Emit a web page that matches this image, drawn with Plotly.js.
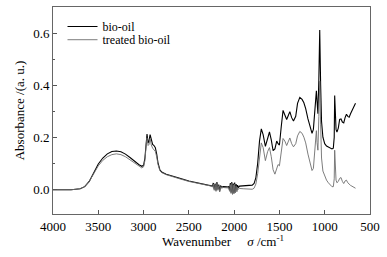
<!DOCTYPE html>
<html>
<head>
<meta charset="utf-8">
<script src="https://cdn.plot.ly/plotly-3.0.1.min.js"></script>
<style>
  html, body { margin: 0; padding: 0; background: #fff; }
  #chart { width: 387px; height: 257px; }
</style>
</head>
<body>
<div id="chart"></div>
<script>
// wavenumber (cm-1), shared by both spectra
const wavenumber = [
  4000, 3900, 3800, 3700, 3650, 3600, 3550, 3500, 3450, 3400, 3350, 3300, 3250, 3200, 3150, 3100, 3050, 3020, 3000,
  2985, 2970, 2962, 2950, 2940, 2928, 2915, 2900, 2885, 2870, 2855, 2840, 2820, 2800, 2750, 2700, 2600, 2500, 2400, 2300, 2250,
  2240, 2230, 2220, 2210, 2200, 2190, 2180, 2170, 2160, 2150, 2140,
  2120, 2100, 2080, 2060,
  2050, 2042, 2034, 2026, 2018, 2010, 2002, 1994, 1986, 1978, 1970, 1962, 1954,
  1940, 1900, 1850, 1800, 1780, 1760, 1740, 1720, 1700, 1680, 1655, 1630, 1610, 1590, 1570, 1550, 1530, 1515, 1500,
  1480, 1460, 1440, 1420, 1400, 1385, 1365, 1345, 1320, 1300, 1275, 1250, 1230, 1210, 1185, 1160, 1140, 1125, 1110,
  1100, 1092, 1085, 1075, 1065, 1055, 1045, 1035, 1020, 1000, 980, 960, 940, 920, 905, 895, 890, 885, 875, 865,
  850, 835, 820, 805, 790, 775, 760, 745, 730, 715, 700, 685, 670, 660
];

const bioOil = [
  -0.002, -0.002, -0.002, 0.002, 0.01, 0.03, 0.065, 0.097, 0.12, 0.136, 0.145, 0.147, 0.144, 0.135, 0.122, 0.107, 0.094, 0.088, 0.092,
  0.12, 0.19, 0.212, 0.178, 0.185, 0.21, 0.185, 0.172, 0.168, 0.16, 0.135, 0.1, 0.075, 0.066, 0.058, 0.052, 0.042, 0.032, 0.024, 0.017, 0.014,
  0.012, 0.024, 0.0, 0.022, -0.004, 0.028, 0.0, 0.018, -0.008, 0.014, 0.008,
  0.01, 0.009, 0.009, 0.01,
  -0.004, 0.024, -0.012, 0.028, -0.016, 0.022, -0.014, 0.026, -0.01, 0.02, -0.004, 0.016, 0.006,
  0.012, 0.013, 0.014, 0.016, 0.022, 0.045, 0.1, 0.185, 0.232, 0.21, 0.165, 0.2, 0.22, 0.19, 0.148, 0.155, 0.185, 0.175, 0.17,
  0.24, 0.303, 0.285, 0.268, 0.285, 0.298, 0.275, 0.262, 0.28, 0.33, 0.353, 0.345, 0.332, 0.31, 0.27, 0.235, 0.215, 0.23, 0.29,
  0.36, 0.378, 0.34, 0.29, 0.42, 0.612, 0.4, 0.26, 0.2, 0.175, 0.166, 0.162, 0.158, 0.155, 0.158, 0.2, 0.36, 0.3, 0.23, 0.22,
  0.235, 0.268, 0.27, 0.258, 0.255, 0.275, 0.288, 0.28, 0.277, 0.29, 0.302, 0.31, 0.32, 0.33
];

const treatedBioOil = [
  -0.002, -0.002, -0.002, 0.002, 0.01, 0.03, 0.062, 0.09, 0.111, 0.125, 0.133, 0.136, 0.133, 0.125, 0.113, 0.1, 0.088, 0.082, 0.086,
  0.11, 0.175, 0.198, 0.168, 0.172, 0.195, 0.17, 0.158, 0.152, 0.145, 0.125, 0.095, 0.072, 0.064, 0.056, 0.05, 0.04, 0.03, 0.022, 0.015, 0.012,
  0.008, 0.02, -0.004, 0.018, -0.008, 0.022, -0.004, 0.014, -0.01, 0.01, 0.004,
  0.007, 0.006, 0.005, 0.005,
  -0.008, 0.018, -0.016, 0.022, -0.02, 0.016, -0.018, 0.02, -0.014, 0.012, -0.01, 0.008, 0.0,
  0.003, 0.002, 0.001, 0.0, 0.004, 0.02, 0.06, 0.13, 0.178, 0.16, 0.11, 0.145, 0.16, 0.125, 0.075, 0.058, 0.085, 0.095, 0.09,
  0.15, 0.195, 0.185, 0.168, 0.185, 0.197, 0.175, 0.163, 0.175, 0.205, 0.222, 0.215, 0.2, 0.178, 0.135, 0.095, 0.072, 0.08, 0.14,
  0.2, 0.225, 0.18, 0.15, 0.28, 0.415, 0.25, 0.12, 0.07, 0.05, 0.035, 0.025, 0.018, 0.01, 0.01, 0.04, 0.15, 0.08, 0.035, 0.025,
  0.03, 0.042, 0.045, 0.03, 0.022, 0.032, 0.035, 0.025, 0.018, 0.015, 0.012, 0.008, 0.005, 0.004
];

const seriesNames = ["bio-oil", "treated bio-oil"];
const xTicks = [4000, 3500, 3000, 2500, 2000, 1500, 1000, 500];
const yTicks = [0.0, 0.2, 0.4, 0.6];

const serif = "Liberation Serif, Times New Roman, serif";

const traces = [
  {
    type: "scatter", mode: "lines", name: seriesNames[0],
    x: wavenumber, y: bioOil,
    line: { color: "#000000", width: 1.1 },
    legend: "legend"
  },
  {
    type: "scatter", mode: "lines", name: seriesNames[1],
    x: wavenumber, y: treatedBioOil,
    line: { color: "#6e6e6e", width: 0.9 },
    legend: "legend2"
  }
];

function legendBox(y) {
  return {
    x: 0.03, y: y, xanchor: "left", yanchor: "top",
    bgcolor: "rgba(0,0,0,0)",
    font: { family: serif, size: 12, color: "#000" },
    itemwidth: 30
  };
}

const layout = {
  width: 387,
  height: 257,
  margin: { l: 53, r: 17, t: 7, b: 43 },
  paper_bgcolor: "#fff",
  plot_bgcolor: "#fff",
  font: { family: serif, size: 13, color: "#000" },
  showlegend: true,
  legend: legendBox(0.976),
  legend2: legendBox(0.912),
  xaxis: {
    range: [4000, 500],
    tickvals: xTicks,
    ticks: "inside", ticklen: 4, tickcolor: "#555",
    showgrid: false, zeroline: false,
    showline: true, linecolor: "#666", linewidth: 1, mirror: true,
    tickfont: { family: serif, size: 13, color: "#000" }
  },
  yaxis: {
    range: [-0.095, 0.7],
    tickvals: yTicks,
    tickformat: ".1f",
    ticks: "inside", ticklen: 4, tickcolor: "#555",
    minor: { dtick: 0.1, ticks: "inside", ticklen: 2, tickcolor: "#555" },
    showgrid: false, zeroline: false,
    showline: true, linecolor: "#666", linewidth: 1, mirror: true,
    tickfont: { family: serif, size: 13, color: "#000" },
    title: { text: "Absorbance /(a. u.)", font: { family: serif, size: 13, color: "#000" }, standoff: 5 }
  },
  annotations: [
    {
      xref: "paper", yref: "paper", x: 0.537, y: -0.13,
      xanchor: "center", yanchor: "middle", showarrow: false,
      text: "Wavenumber\u00a0\u00a0\u00a0\u00a0\u00a0<i>σ</i> /cm<sup>-1</sup>",
      font: { family: serif, size: 13, color: "#000" }
    }
  ]
};

Plotly.newPlot("chart", traces, layout, { staticPlot: true, displayModeBar: false });
</script>
</body>
</html>
